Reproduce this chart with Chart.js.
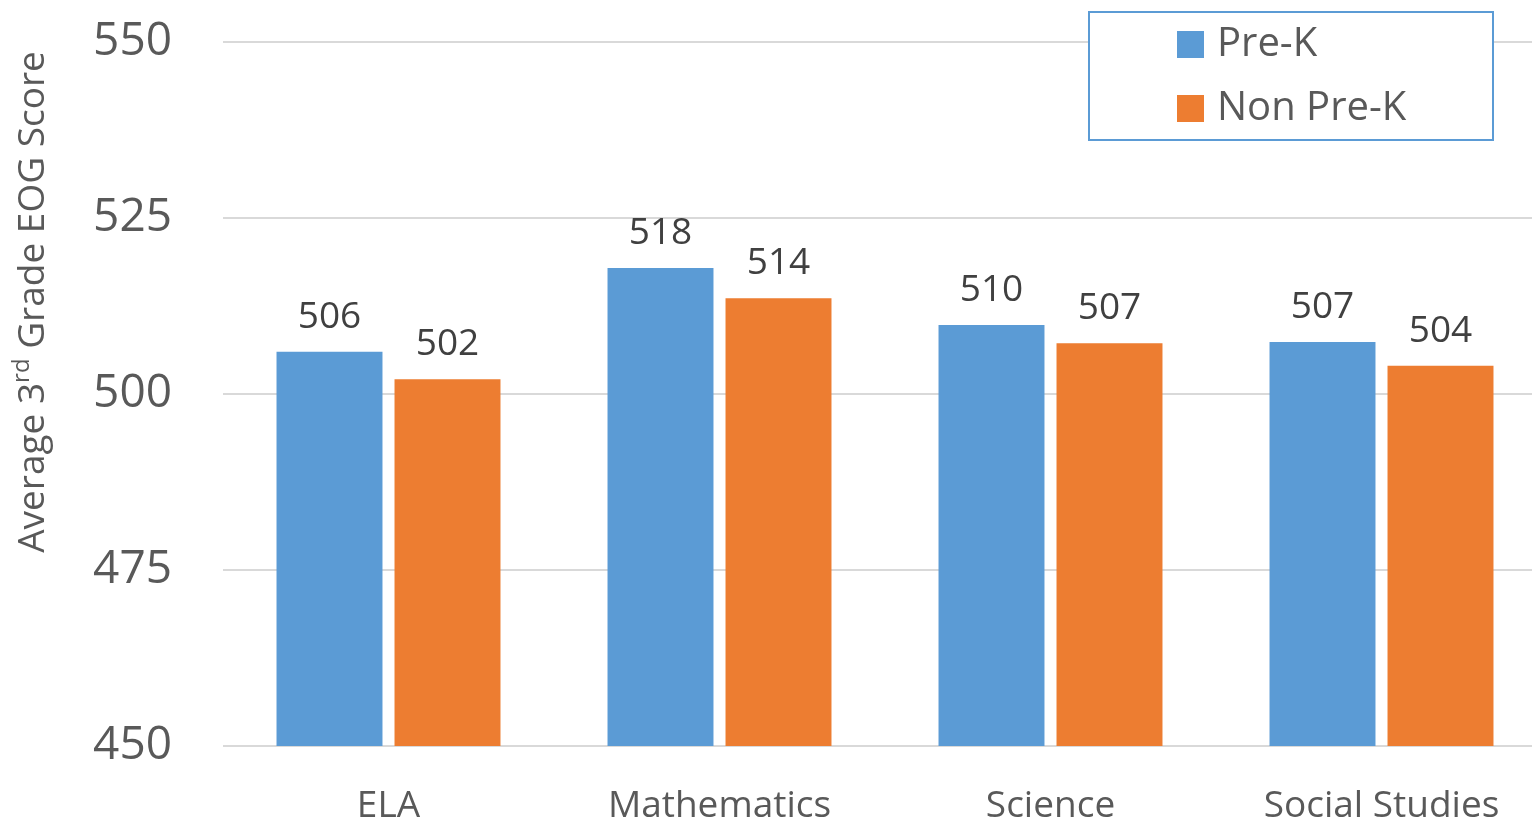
<!DOCTYPE html>
<html>
<head>
<meta charset="utf-8">
<script src="https://cdn.jsdelivr.net/npm/chart.js@4/dist/chart.umd.min.js"></script>
<style>
  html, body { margin: 0; padding: 0; overflow: hidden; background: #ffffff; }
  #wrap { width: 1547px; height: 820px; }
</style>
</head>
<body>
<div id="wrap"><canvas id="c" width="1547" height="820"></canvas></div>
<script>
const categories = ['ELA', 'Mathematics', 'Science', 'Social Studies'];
const preK = [506.0, 517.9, 509.8, 507.4];
const nonPreK = [502.1, 513.6, 507.2, 504.0];
const seriesNames = ['Pre-K', 'Non Pre-K'];
const yTicks = [450, 475, 500, 525, 550];

const FONT = '"Open Sans", "Noto Sans", sans-serif';
const BLUE = '#5B9BD5';
const ORANGE = '#ED7D31';

const valueLabels = {
  id: 'valueLabels',
  afterDatasetsDraw(chart) {
    const ctx = chart.ctx;
    ctx.save();
    ctx.font = '37px ' + FONT;
    ctx.fillStyle = '#404040';
    ctx.textAlign = 'center';
    ctx.textBaseline = 'alphabetic';
    chart.data.datasets.forEach((ds, i) => {
      chart.getDatasetMeta(i).data.forEach((bar, j) => {
        ctx.fillText(String(Math.round(ds.data[j])), bar.x, bar.y - 24);
      });
    });
    ctx.restore();
  }
};

const yTitle = {
  id: 'yTitle',
  afterDraw(chart) {
    const ctx = chart.ctx;
    const parts = [
      { t: 'Average 3', size: 37, dy: 0 },
      { t: 'rd', size: 24, dy: -15 },
      { t: ' Grade EOG Score', size: 37, dy: 0 }
    ];
    ctx.save();
    let total = 0;
    parts.forEach(p => { ctx.font = p.size + 'px ' + FONT; p.w = ctx.measureText(p.t).width; total += p.w; });
    ctx.translate(44, 302);
    ctx.rotate(-Math.PI / 2);
    ctx.fillStyle = '#595959';
    ctx.textBaseline = 'alphabetic';
    ctx.textAlign = 'left';
    let x = -total / 2;
    parts.forEach(p => {
      ctx.font = p.size + 'px ' + FONT;
      ctx.fillText(p.t, x, p.dy);
      x += p.w;
    });
    ctx.restore();
  }
};

const legendBox = {
  id: 'legendBox',
  afterDraw(chart) {
    const ctx = chart.ctx;
    ctx.save();
    ctx.fillStyle = '#ffffff';
    ctx.fillRect(1089, 12, 404, 128);
    ctx.strokeStyle = '#5B9BD5';
    ctx.lineWidth = 2;
    ctx.strokeRect(1089, 12, 404, 128);
    ctx.font = '40px ' + FONT;
    ctx.textBaseline = 'middle';
    ctx.textAlign = 'left';
    chart.data.datasets.forEach((ds, i) => {
      const y = 44 + i * 64;
      ctx.fillStyle = ds.backgroundColor;
      ctx.fillRect(1177, y - 13, 27, 27);
      ctx.fillStyle = '#595959';
      ctx.fillText(ds.label, 1217, y + 1);
    });
    ctx.restore();
  }
};

new Chart(document.getElementById('c'), {
  type: 'bar',
  data: {
    labels: categories,
    datasets: [
      { label: seriesNames[0], data: preK, backgroundColor: BLUE },
      { label: seriesNames[1], data: nonPreK, backgroundColor: ORANGE }
    ]
  },
  options: {
    responsive: false,
    animation: false,
    layout: { padding: { top: 42, right: 0, bottom: 0, left: 0 } },
    datasets: { bar: { categoryPercentage: 0.713, barPercentage: 0.898 } },
    plugins: { legend: { display: false }, tooltip: { enabled: false } },
    scales: {
      x: {
        grid: { display: false, drawTicks: false },
        border: { display: false },
        ticks: { color: '#595959', font: { family: FONT, size: 37 }, padding: 38 },
        afterFit(s) { s.height = 74; s.paddingLeft = 0; s.paddingRight = 0; }
      },
      y: {
        min: 450, max: 550,
        afterBuildTicks(s) { s.ticks = yTicks.map(v => ({ value: v })); },
        grid: { color: '#D9D9D9', lineWidth: 2, drawTicks: false },
        border: { display: false },
        ticks: { color: '#595959', font: { family: FONT, size: 46 }, padding: 51 },
        afterFit(s) { s.width = 223; s.paddingTop = 0; s.paddingBottom = 0; }
      }
    }
  },
  plugins: [valueLabels, yTitle, legendBox]
});
</script>
</body>
</html>
